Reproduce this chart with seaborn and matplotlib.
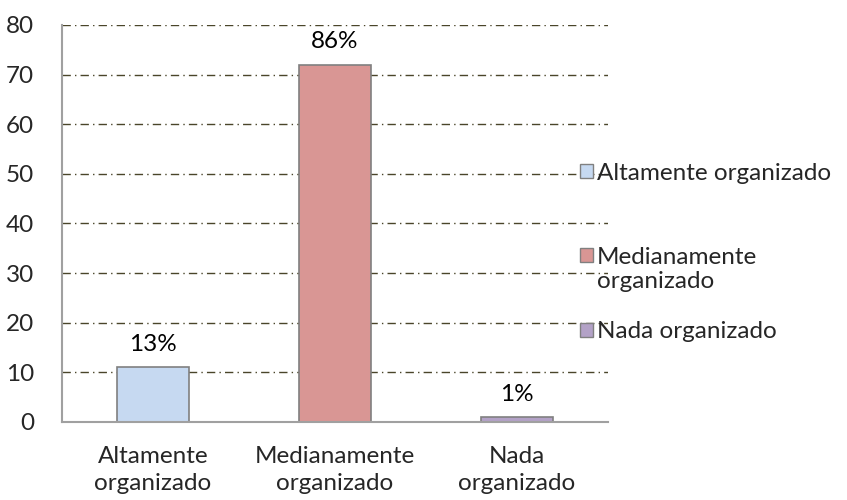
import numpy as np
import pandas as pd
import matplotlib
matplotlib.use('Agg')
import matplotlib.pyplot as plt
import seaborn as sns
from matplotlib.patches import Patch

# Data
categorias = ['Altamente organizado', 'Medianamente organizado', 'Nada organizado']
etiquetas_x = ['Altamente\norganizado', 'Medianamente\norganizado', 'Nada\norganizado']
etiquetas_leyenda = ['Altamente organizado', 'Medianamente', 'Nada organizado']
valores = [11, 72, 1]
porcentajes = ['13%', '86%', '1%']
colores = ['#C6D9F1', '#D99694', '#B3A2C7']

sns.set_style('white')
plt.rcParams['font.family'] = ['Lato', 'DejaVu Sans']
FS = 17.5

df = pd.DataFrame({'cat': categorias, 'valor': valores})

fig = plt.figure(figsize=(8.47, 5), dpi=100)
ax = fig.add_axes([62/847, 1-422/500, (608-62)/847, (422-25)/500])

sns.barplot(data=df, x='cat', y='valor', hue='cat', palette=colores, saturation=1,
            width=0.4, edgecolor='#808080', linewidth=1.2, legend=False, ax=ax)

# gridlines dash-dot
ax.set_ylim(0, 80)
ax.set_xlim(-0.5, 2.5)
ax.set_yticks(np.arange(0, 81, 10))
ax.yaxis.grid(True, color='#4A452A', linestyle=(0, (6, 3, 1, 3)), linewidth=1)
ax.set_axisbelow(True)

for i, (v, p) in enumerate(zip(valores, porcentajes)):
    ax.text(i, v + 2.5, p, ha='center', va='bottom', fontsize=FS, color='black')

for s in ['top', 'right']:
    ax.spines[s].set_visible(False)
for s in ['left', 'bottom']:
    ax.spines[s].set_color('#A0A0A0')
    ax.spines[s].set_linewidth(1.5)

ax.set_xticks([0, 1, 2])
ax.set_xticklabels(etiquetas_x, fontsize=FS, linespacing=1.4)
ax.set_xticks([-0.5, 0.5, 1.5, 2.5], minor=True)
ax.tick_params(axis='x', which='major', length=0, pad=17)
ax.tick_params(axis='x', which='minor', length=7, width=1.5, color='#A0A0A0', direction='out')
ax.tick_params(axis='y', length=8, width=1.5, color='#A0A0A0', direction='out', labelsize=FS, pad=12)
ax.set_xlabel('')
ax.set_ylabel('')

# legend entries placed one by one (uneven spacing like the original)
leg_y = [173, 257, 332]
leyendas = []
for c, lab, y in zip(colores, etiquetas_leyenda, leg_y):
    h = Patch(facecolor=c, edgecolor='#808080', linewidth=1)
    leg = fig.legend([h], [lab], loc='center left',
                     bbox_to_anchor=(570/847, 1 - y/500), frameon=False,
                     fontsize=FS, handlelength=0.55, handleheight=0.55,
                     handletextpad=0.15, borderaxespad=0)
    leyendas.append(leg)

# second line of the wrapped legend label
fig.canvas.draw()
x0 = leyendas[1].get_texts()[0].get_window_extent().x0 / fig.bbox.width
fig.text(x0, 1 - 282/500, 'organizado', fontsize=FS, ha='left', va='center')

fig.savefig('out.png', dpi=100)
